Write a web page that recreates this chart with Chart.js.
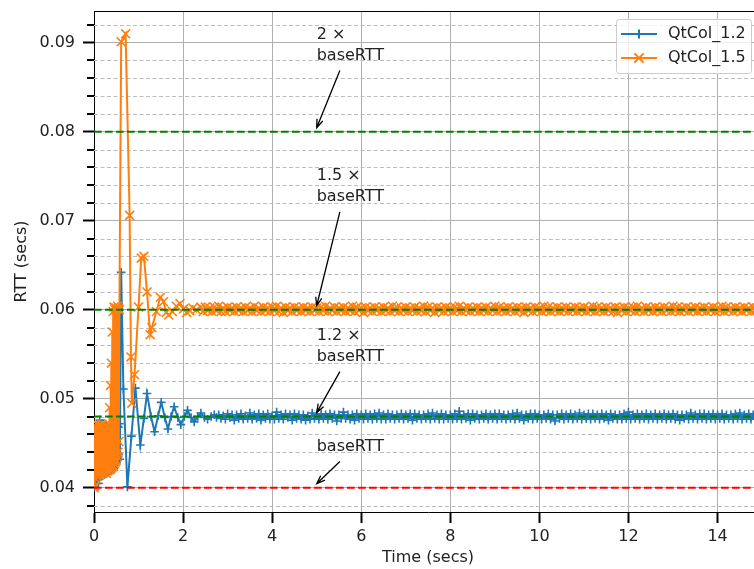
<!DOCTYPE html>
<html>
<head>
<meta charset="utf-8">
<script src="https://cdn.jsdelivr.net/npm/chart.js@4.4.1/dist/chart.umd.min.js"></script>
<style>
  html, body { margin: 0; padding: 0; background: #fff; overflow: hidden; }
  #rtt { display: block; }
</style>
</head>
<body>
<canvas id="rtt" width="770" height="569"></canvas>
<script>
// sampling steps used by the trace logger
const EARLY_STEP = 0.01;
const STEADY_STEP = 0.05;

// QtCol_1.2 : start-up burst, transient, steady state
const q12Early = [
  0.0401, 0.0452, 0.0404, 0.0461, 0.0406, 0.0466, 0.0409, 0.0470, 0.0411, 0.0468,
  0.0405, 0.0465, 0.0412, 0.0476, 0.0414, 0.0463, 0.0415, 0.0467, 0.0413, 0.0469,
  0.0416, 0.0464, 0.0417, 0.0468, 0.0415, 0.0466, 0.0418, 0.0470, 0.0416, 0.0465,
  0.0419, 0.0467, 0.0417, 0.0469, 0.0420, 0.0466, 0.0419, 0.0468, 0.0421, 0.0465,
  0.0420, 0.0467, 0.0423, 0.0469, 0.0422, 0.0466, 0.0425, 0.0468, 0.0427, 0.0470,
  0.0430, 0.0467, 0.0433, 0.0469, 0.0435, 0.0468, 0.0438, 0.0472, 0.0432
];
const q12TransTime = [0.61, 0.66, 0.75, 0.84, 0.93, 1.04, 1.12, 1.19, 1.28, 1.36, 1.44, 1.51, 1.59, 1.66,
  1.73, 1.80, 1.88, 1.95, 2.03, 2.10, 2.18, 2.25, 2.33, 2.40, 2.48, 2.55, 2.63, 2.70];
const q12TransRtt = [0.0642, 0.0511, 0.0401, 0.0458, 0.0512, 0.0448, 0.0478, 0.0506, 0.0480, 0.0463, 0.0481, 0.0496, 0.0479, 0.0466,
  0.0480, 0.0491, 0.0479, 0.0471, 0.0480, 0.0487, 0.0479, 0.0474, 0.0480, 0.0484, 0.0479, 0.0477, 0.0480, 0.0482];
const q12SteadyStart = 2.75;
const q12Steady = [
  0.0479, 0.0482, 0.0478, 0.0481, 0.0477, 0.0483, 0.0479, 0.0482, 0.0476, 0.0482,
  0.0478, 0.0483, 0.0477, 0.0481, 0.0478, 0.0484, 0.0477, 0.0482, 0.0478, 0.0483,
  0.0476, 0.0482, 0.0478, 0.0483, 0.0477, 0.0481, 0.0477, 0.0485, 0.0478, 0.0482,
  0.0477, 0.0483, 0.0479, 0.0482, 0.0476, 0.0483, 0.0478, 0.0482, 0.0477, 0.0482,
  0.0476, 0.0481, 0.0477, 0.0484, 0.0478, 0.0482, 0.0477, 0.0483, 0.0478, 0.0482,
  0.0477, 0.0483, 0.0478, 0.0482, 0.0475, 0.0482, 0.0478, 0.0485, 0.0478, 0.0482,
  0.0477, 0.0482, 0.0476, 0.0483, 0.0478, 0.0482, 0.0477, 0.0483, 0.0478, 0.0482,
  0.0477, 0.0483, 0.0478, 0.0484, 0.0477, 0.0482, 0.0477, 0.0483, 0.0478, 0.0482,
  0.0477, 0.0482, 0.0478, 0.0483, 0.0477, 0.0482, 0.0478, 0.0483, 0.0476, 0.0483,
  0.0478, 0.0482, 0.0477, 0.0482, 0.0478, 0.0483, 0.0477, 0.0484, 0.0478, 0.0482,
  0.0477, 0.0483, 0.0477, 0.0482, 0.0478, 0.0482, 0.0477, 0.0483, 0.0478, 0.0486,
  0.0477, 0.0482, 0.0478, 0.0483, 0.0476, 0.0483, 0.0478, 0.0482, 0.0477, 0.0482,
  0.0478, 0.0483, 0.0477, 0.0482, 0.0478, 0.0483, 0.0477, 0.0483, 0.0478, 0.0482,
  0.0477, 0.0482, 0.0478, 0.0483, 0.0477, 0.0484, 0.0478, 0.0482, 0.0476, 0.0482,
  0.0478, 0.0483, 0.0477, 0.0483, 0.0478, 0.0482, 0.0477, 0.0482, 0.0478, 0.0483,
  0.0477, 0.0482, 0.0475, 0.0482, 0.0478, 0.0483, 0.0477, 0.0482, 0.0478, 0.0483,
  0.0477, 0.0482, 0.0478, 0.0484, 0.0477, 0.0482, 0.0478, 0.0483, 0.0477, 0.0483,
  0.0478, 0.0482, 0.0477, 0.0483, 0.0478, 0.0482, 0.0476, 0.0483, 0.0478, 0.0482,
  0.0477, 0.0482, 0.0477, 0.0483, 0.0478, 0.0485, 0.0477, 0.0482, 0.0478, 0.0483,
  0.0477, 0.0482, 0.0478, 0.0483, 0.0477, 0.0482, 0.0478, 0.0483, 0.0477, 0.0482,
  0.0478, 0.0483, 0.0477, 0.0482, 0.0478, 0.0483, 0.0477, 0.0482, 0.0476, 0.0482,
  0.0478, 0.0482, 0.0477, 0.0484, 0.0478, 0.0482, 0.0477, 0.0483, 0.0478, 0.0483,
  0.0477, 0.0482, 0.0478, 0.0483, 0.0477, 0.0482, 0.0478, 0.0483, 0.0477, 0.0482,
  0.0478, 0.0482, 0.0477, 0.0483, 0.0478, 0.0484, 0.0477, 0.0482, 0.0478, 0.0483,
  0.0477, 0.0482, 0.0478, 0.0483, 0.0480
];

// QtCol_1.5
const q15Early = [
  0.0400, 0.0455, 0.0402, 0.0468, 0.0410, 0.0472, 0.0413, 0.0466, 0.0415, 0.0470,
  0.0417, 0.0463, 0.0414, 0.0469, 0.0418, 0.0465, 0.0416, 0.0471, 0.0419, 0.0462,
  0.0417, 0.0468, 0.0420, 0.0466, 0.0418, 0.0470, 0.0421, 0.0464, 0.0416, 0.0469,
  0.0419, 0.0467, 0.0421, 0.0472, 0.0420, 0.0490, 0.0422, 0.0515, 0.0421, 0.0540,
  0.0423, 0.0575, 0.0425, 0.0598, 0.0424, 0.0603, 0.0427, 0.0600, 0.0429, 0.0602,
  0.0431, 0.0601, 0.0435, 0.0604, 0.0440, 0.0601, 0.0452, 0.0600
];
const q15TransTime = [0.61, 0.71, 0.80, 0.83, 0.85, 0.91, 1.00, 1.06, 1.12, 1.19, 1.26, 1.30, 1.40,
  1.49, 1.56, 1.62, 1.68, 1.76, 1.85, 1.93, 2.01, 2.08, 2.15, 2.22, 2.30];
const q15TransRtt = [0.0901, 0.0910, 0.0706, 0.0547, 0.0495, 0.0527, 0.0603, 0.0658, 0.0660, 0.0620, 0.0572, 0.0580, 0.0598,
  0.0614, 0.0609, 0.0597, 0.0594, 0.0598, 0.0604, 0.0607, 0.0601, 0.0597, 0.0599, 0.0602, 0.0600];
const q15SteadyStart = 2.4;
const q15Steady = [
  0.0603, 0.0598, 0.0603, 0.0599, 0.0602, 0.0598, 0.0603, 0.0599, 0.0604, 0.0598,
  0.0602, 0.0598, 0.0603, 0.0599, 0.0602, 0.0598, 0.0603, 0.0599, 0.0602, 0.0598,
  0.0603, 0.0599, 0.0602, 0.0598, 0.0604, 0.0599, 0.0602, 0.0598, 0.0603, 0.0599,
  0.0602, 0.0598, 0.0603, 0.0599, 0.0604, 0.0598, 0.0602, 0.0597, 0.0603, 0.0599,
  0.0602, 0.0598, 0.0603, 0.0599, 0.0602, 0.0598, 0.0603, 0.0599, 0.0602, 0.0598,
  0.0603, 0.0599, 0.0602, 0.0598, 0.0603, 0.0599, 0.0604, 0.0598, 0.0602, 0.0599,
  0.0603, 0.0598, 0.0602, 0.0599, 0.0603, 0.0598, 0.0602, 0.0599, 0.0604, 0.0598,
  0.0603, 0.0599, 0.0602, 0.0597, 0.0603, 0.0599, 0.0602, 0.0598, 0.0603, 0.0599,
  0.0602, 0.0598, 0.0603, 0.0599, 0.0602, 0.0598, 0.0604, 0.0599, 0.0603, 0.0598,
  0.0602, 0.0599, 0.0603, 0.0598, 0.0602, 0.0599, 0.0603, 0.0598, 0.0602, 0.0599,
  0.0604, 0.0598, 0.0603, 0.0599, 0.0602, 0.0597, 0.0603, 0.0599, 0.0602, 0.0598,
  0.0603, 0.0599, 0.0602, 0.0598, 0.0603, 0.0599, 0.0604, 0.0598, 0.0602, 0.0599,
  0.0603, 0.0598, 0.0602, 0.0599, 0.0603, 0.0598, 0.0602, 0.0599, 0.0603, 0.0598,
  0.0602, 0.0599, 0.0604, 0.0598, 0.0603, 0.0599, 0.0602, 0.0598, 0.0603, 0.0599,
  0.0602, 0.0598, 0.0603, 0.0599, 0.0602, 0.0597, 0.0603, 0.0599, 0.0602, 0.0598,
  0.0603, 0.0599, 0.0602, 0.0598, 0.0604, 0.0599, 0.0603, 0.0598, 0.0602, 0.0599,
  0.0603, 0.0598, 0.0602, 0.0599, 0.0603, 0.0598, 0.0602, 0.0599, 0.0603, 0.0598,
  0.0602, 0.0599, 0.0603, 0.0598, 0.0602, 0.0599, 0.0604, 0.0598, 0.0603, 0.0599,
  0.0602, 0.0598, 0.0603, 0.0599, 0.0602, 0.0598, 0.0603, 0.0597, 0.0602, 0.0599,
  0.0603, 0.0598, 0.0602, 0.0599, 0.0603, 0.0598, 0.0604, 0.0599, 0.0602, 0.0598,
  0.0603, 0.0599, 0.0602, 0.0598, 0.0603, 0.0599, 0.0602, 0.0598, 0.0603, 0.0599,
  0.0602, 0.0598, 0.0604, 0.0599, 0.0603, 0.0598, 0.0602, 0.0599, 0.0603, 0.0598,
  0.0602, 0.0599, 0.0603, 0.0598, 0.0602, 0.0599, 0.0603, 0.0598, 0.0602, 0.0599,
  0.0603, 0.0598, 0.0602, 0.0599, 0.0604, 0.0598, 0.0603, 0.0599, 0.0602, 0.0598,
  0.0603, 0.0599, 0.0602, 0.0598, 0.0603, 0.0599, 0.0602, 0.0598, 0.0603, 0.0599,
  0.0602, 0.0600
];

// baseRTT multiples
const refLevels = [0.08, 0.06, 0.048, 0.04];
const refColors = ['#008000', '#008000', '#008000', '#ff0000'];

const xTicks = [0, 2, 4, 6, 8, 10, 12, 14];
const yMajorTicks = [0.04, 0.05, 0.06, 0.07, 0.08, 0.09];
const yMinorTicks = [0.038, 0.042, 0.044, 0.046, 0.048, 0.052, 0.054, 0.056, 0.058, 0.062, 0.064,
  0.066, 0.068, 0.072, 0.074, 0.076, 0.078, 0.082, 0.084, 0.086, 0.088, 0.092];

// labels pointing at each level (text at x = 5 secs)
const notes = [
  { lines: ['2 \u00d7', 'baseRTT'], level: 0.08, textY: 0.08856 },
  { lines: ['1.5 \u00d7', 'baseRTT'], level: 0.06, textY: 0.07269 },
  { lines: ['1.2 \u00d7', 'baseRTT'], level: 0.048, textY: 0.05473 },
  { lines: ['baseRTT'], level: 0.04, textY: 0.04463 }
];
const NOTE_X = 5.0;
const NOTE_TAIL_X = 5.52;

const BLUE = '#1f77b4';
const ORANGE = '#ff7f0e';
const TEXT = '#222222';

Chart.defaults.font.family = '"DejaVu Sans", sans-serif';
Chart.defaults.font.size = 16;
Chart.defaults.color = TEXT;

function buildTrace(early, transTime, transRtt, steadyStart, steady) {
  const pts = early.map((v, i) => ({ x: +(i * EARLY_STEP).toFixed(2), y: v }));
  transTime.forEach((t, i) => pts.push({ x: t, y: transRtt[i] }));
  steady.forEach((v, i) => pts.push({ x: +(steadyStart + i * STEADY_STEP).toFixed(2), y: v }));
  return pts;
}

const refSets = refLevels.map((lvl, i) => ({
  data: [{ x: 0, y: lvl }, { x: 15, y: lvl }],
  borderColor: refColors[i],
  borderWidth: 2,
  borderDash: [7.7, 3.3],
  pointRadius: 0,
  order: 0
}));

// minor grid + minor ticks on the y axis
const minorGrid = {
  id: 'minorGrid',
  beforeDatasetsDraw(chart) {
    const { ctx, chartArea: a, scales: { y } } = chart;
    ctx.save();
    ctx.strokeStyle = '#bdbdbd';
    ctx.lineWidth = 1;
    ctx.setLineDash([4, 2.5]);
    yMinorTicks.forEach(v => {
      const py = Math.round(y.getPixelForValue(v)) + 0.5;
      ctx.beginPath();
      ctx.moveTo(a.left, py);
      ctx.lineTo(a.right, py);
      ctx.stroke();
    });
    ctx.setLineDash([]);
    ctx.strokeStyle = '#000';
    ctx.lineWidth = 2;
    yMinorTicks.forEach(v => {
      const py = Math.round(y.getPixelForValue(v));
      ctx.beginPath();
      ctx.moveTo(a.left - 7, py);
      ctx.lineTo(a.left, py);
      ctx.stroke();
    });
    ctx.restore();
  }
};

function arrow(ctx, x0, y0, x1, y1) {
  const ang = Math.atan2(y1 - y0, x1 - x0);
  const head = 9;
  ctx.beginPath();
  ctx.moveTo(x0, y0);
  ctx.lineTo(x1, y1);
  ctx.moveTo(x1 - head * Math.cos(ang - 0.35), y1 - head * Math.sin(ang - 0.35));
  ctx.lineTo(x1, y1);
  ctx.lineTo(x1 - head * Math.cos(ang + 0.35), y1 - head * Math.sin(ang + 0.35));
  ctx.stroke();
}

const annotations = {
  id: 'annotations',
  afterDatasetsDraw(chart) {
    const { ctx, scales: { x, y } } = chart;
    ctx.save();
    ctx.font = '16px "DejaVu Sans"';
    ctx.fillStyle = TEXT;
    ctx.strokeStyle = '#000';
    ctx.lineWidth = 1.3;
    ctx.textAlign = 'left';
    ctx.textBaseline = 'middle';
    notes.forEach(n => {
      const tx = x.getPixelForValue(NOTE_X);
      const ty = y.getPixelForValue(n.textY);
      n.lines.forEach((line, i) => {
        ctx.fillText(line, tx, ty - (n.lines.length - 1 - i) * 21);
      });
      arrow(ctx, x.getPixelForValue(NOTE_TAIL_X), ty + 15, tx, y.getPixelForValue(n.level) - 4);
    });
    ctx.restore();
  }
};

// top spine and the legend box
const frameAndLegend = {
  id: 'frameAndLegend',
  afterDraw(chart) {
    const { ctx, chartArea: a } = chart;
    ctx.save();
    ctx.strokeStyle = '#000';
    ctx.lineWidth = 1;
    ctx.beginPath();
    ctx.moveTo(a.left, a.top + 0.5);
    ctx.lineTo(a.right, a.top + 0.5);
    ctx.stroke();

    ctx.fillStyle = 'rgba(255,255,255,0.8)';
    ctx.strokeStyle = '#cccccc';
    ctx.beginPath();
    ctx.roundRect(616.5, 19.5, 135, 54, 3);
    ctx.fill();
    ctx.stroke();

    const items = [
      { label: 'QtCol_1.2', color: BLUE, style: 'cross', r: 4.5, y: 34 },
      { label: 'QtCol_1.5', color: ORANGE, style: 'crossRot', r: 6.5, y: 58 }
    ];
    items.forEach(it => {
      ctx.strokeStyle = it.color;
      ctx.lineWidth = 2;
      ctx.beginPath();
      ctx.moveTo(621, it.y);
      ctx.lineTo(657, it.y);
      ctx.stroke();
      Chart.helpers.drawPoint(ctx, { pointStyle: it.style, radius: it.r, borderWidth: 1.6 }, 639, it.y);
      ctx.fillStyle = TEXT;
      ctx.font = '16px "DejaVu Sans"';
      ctx.textBaseline = 'middle';
      ctx.fillText(it.label, 668, it.y);
    });
    ctx.restore();
  }
};

new Chart(document.getElementById('rtt'), {
  type: 'line',
  data: {
    datasets: [
      ...refSets,
      {
        label: 'QtCol_1.5',
        data: buildTrace(q15Early, q15TransTime, q15TransRtt, q15SteadyStart, q15Steady),
        borderColor: ORANGE,
        borderWidth: 2,
        pointStyle: 'crossRot',
        pointRadius: 6.3,
        pointBorderWidth: 1.6,
        pointBorderColor: ORANGE,
        pointBackgroundColor: ORANGE,
        order: 1
      },
      {
        label: 'QtCol_1.2',
        data: buildTrace(q12Early, q12TransTime, q12TransRtt, q12SteadyStart, q12Steady),
        borderColor: BLUE,
        borderWidth: 2,
        pointStyle: 'cross',
        pointRadius: 4.3,
        pointBorderWidth: 1.6,
        pointBorderColor: BLUE,
        pointBackgroundColor: BLUE,
        order: 2
      }
    ]
  },
  options: {
    responsive: false,
    animation: false,
    layout: { padding: { top: 11, right: 7, left: 0, bottom: 0 } },
    plugins: { legend: { display: false }, tooltip: { enabled: false } },
    elements: { line: { tension: 0 } },
    scales: {
      x: {
        type: 'linear',
        min: 0,
        max: 15,
        afterBuildTicks: s => { s.ticks = xTicks.map(v => ({ value: v })); },
        afterFit: s => { s.height = 57; s.paddingLeft = 0; s.paddingRight = 0; },
        grid: { color: '#b0b0b0', lineWidth: 1, tickLength: 11, tickWidth: 2, tickColor: '#000' },
        border: { color: '#000', width: 1 },
        ticks: { padding: 4, maxRotation: 0, autoSkip: false, callback: v => String(v) },
        title: { display: true, text: 'Time (secs)', padding: { top: 0, bottom: 1.4 } }
      },
      y: {
        type: 'linear',
        min: 0.03728,
        max: 0.09356,
        afterBuildTicks: s => { s.ticks = yMajorTicks.map(v => ({ value: v })); },
        afterFit: s => { s.width = 94; s.paddingTop = 0; s.paddingBottom = 0; },
        grid: { color: '#b0b0b0', lineWidth: 1, tickLength: 11, tickWidth: 2, tickColor: '#000' },
        border: { color: '#000', width: 1 },
        ticks: { padding: 8, callback: v => v.toFixed(2) },
        title: { display: true, text: 'RTT (secs)', padding: { top: 12.4, bottom: 0 } }
      }
    }
  },
  plugins: [minorGrid, annotations, frameAndLegend]
});
</script>
</body>
</html>
